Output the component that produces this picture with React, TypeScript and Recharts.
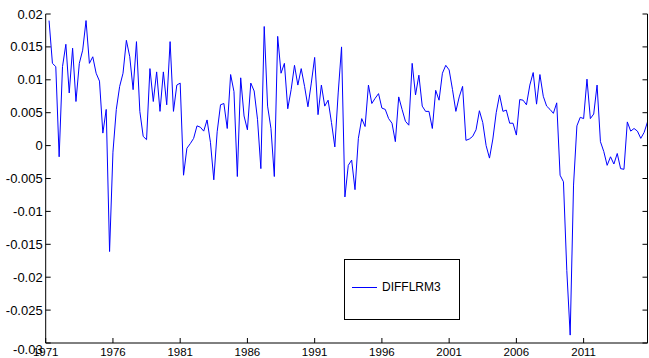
import React from 'react';
import { LineChart, Line, XAxis, YAxis } from 'recharts';

// quarterly observations, first one is 1971 Q2
const firstQuarter = 1971.25;
const seriesName = 'DIFFLRM3';
const diffLrm3 = [
  0.019, 0.0125, 0.012, -0.0017, 0.012, 0.0154, 0.008, 0.0148, 0.0067, 0.0125,
  0.0145, 0.019, 0.0125, 0.0135, 0.011, 0.0098, 0.0019, 0.0055, -0.0161, -0.001,
  0.0055, 0.009, 0.011, 0.016, 0.0135, 0.0085, 0.0158, 0.0052, 0.0014, 0.0009,
  0.0117, 0.0067, 0.0112, 0.0052, 0.0112, 0.0062, 0.0158, 0.0052, 0.0092, 0.0095,
  -0.0045, -0.0004, 0.0003, 0.0011, 0.003, 0.0028, 0.0022, 0.0039, 0.0005, -0.0052,
  0.0021, 0.0062, 0.0064, 0.0026, 0.0108, 0.0082, -0.0047, 0.0103, 0.0045, 0.0024,
  0.0095, 0.0083, 0.004, -0.0035, 0.0181, 0.006, 0.0026, -0.0047, 0.0166, 0.011,
  0.0125, 0.0056, 0.0085, 0.0122, 0.0092, 0.0117, 0.009, 0.0059, 0.0095, 0.0134,
  0.0047, 0.0092, 0.006, 0.0069, 0.0035, -0.0002, 0.008, 0.015, -0.0078, -0.003,
  -0.0022, -0.0067, 0.0011, 0.0041, 0.0029, 0.0092, 0.0064, 0.0072, 0.0079, 0.0057,
  0.0055, 0.0041, 0.0034, 0.0006, 0.0074, 0.0055, 0.0037, 0.0031, 0.0125, 0.0077,
  0.0107, 0.006, 0.0052, 0.0052, 0.0026, 0.0084, 0.0069, 0.011, 0.0122, 0.0115,
  0.0085, 0.0052, 0.0074, 0.009, 0.0008, 0.001, 0.0014, 0.0024, 0.0053, 0.0035,
  0.0, -0.0019, 0.001, 0.005, 0.0077, 0.0052, 0.0054, 0.0034, 0.0034, 0.0016,
  0.007, 0.0069, 0.0062, 0.0092, 0.0111, 0.0063, 0.0108, 0.0075, 0.006, 0.0055,
  0.0049, 0.0065, -0.0045, -0.0055, -0.019, -0.0288, -0.006, 0.003, 0.0043, 0.0041,
  0.0101, 0.0041, 0.0048, 0.0092, 0.0006, -0.0009, -0.003, -0.0017, -0.0028, -0.0012,
  -0.0035, -0.0036, 0.0036, 0.0022, 0.0026, 0.0022, 0.0011, 0.002, 0.0036,
];

const xTicks = [1971, 1976, 1981, 1986, 1991, 1996, 2001, 2006, 2011];
const xTickLabels = ['1971', '1976', '1981', '1986', '1991', '1996', '2001', '2006', '2011'];
const yTicks = [-0.03, -0.025, -0.02, -0.015, -0.01, -0.005, 0, 0.005, 0.01, 0.015, 0.02];
const yTickLabels = ['-0.03', '-0.025', '-0.02', '-0.015', '-0.01', '-0.005', '0', '0.005', '0.01', '0.015', '0.02'];

const rows = diffLrm3.map((v, i) => ({ t: firstQuarter + i / 4, v }));
const lastT = firstQuarter + (diffLrm3.length - 1) / 4;

const font = '"Liberation Sans", Arial, Helvetica, sans-serif';
const ink = '#000';

const LeftTick = (props: any) => {
  const { x, y, payload } = props;
  const idx = yTicks.indexOf(payload.value);
  // matlab pushed the lowest label down a bit
  const dy = idx === 0 ? 6 : 0;
  return (
    <g>
      <line x1={x} x2={x + 5} y1={y} y2={y} stroke={ink} />
      <text x={x - 3} y={y + dy} textAnchor="end" dominantBaseline="central" fontSize={13} fontFamily={font} fill={ink}>
        {yTickLabels[idx]}
      </text>
    </g>
  );
};

const RightTick = (props: any) => {
  const { x, y } = props;
  return <line x1={x} x2={x - 5} y1={y} y2={y} stroke={ink} />;
};

const BottomTick = (props: any) => {
  const { x, y, payload } = props;
  const idx = xTicks.indexOf(payload.value);
  return (
    <g>
      <line x1={x} x2={x} y1={y} y2={y - 5} stroke={ink} />
      <text x={x} y={y + 9} textAnchor="middle" dominantBaseline="central" fontSize={11.5} fontFamily={font} fill={ink}>
        {xTickLabels[idx]}
      </text>
    </g>
  );
};

const TopTick = (props: any) => {
  const { x, y } = props;
  return <line x1={x} x2={x} y1={y} y2={y + 5} stroke={ink} />;
};

export default function App() {
  return (
    <div style={{ position: 'absolute', left: 0, top: 0, width: 649, height: 358, background: '#fff' }}>
      <LineChart width={649} height={358} data={rows} margin={{ top: 14, right: 0, bottom: 0, left: 0 }}>
        <XAxis
          xAxisId="b"
          dataKey="t"
          type="number"
          domain={[1971, lastT]}
          ticks={xTicks}
          interval={0}
          height={15}
          tickSize={0}
          tickMargin={0}
          tickLine={false}
          axisLine={{ stroke: ink }}
          tick={<BottomTick />}
          allowDataOverflow
        />
        <XAxis
          xAxisId="t"
          orientation="top"
          dataKey="t"
          type="number"
          domain={[1971, lastT]}
          ticks={xTicks}
          interval={0}
          height={0}
          tickSize={0}
          tickMargin={0}
          tickLine={false}
          axisLine={{ stroke: ink }}
          tick={<TopTick />}
          allowDataOverflow
        />
        <YAxis
          yAxisId="l"
          type="number"
          domain={[-0.03, 0.02]}
          ticks={yTicks}
          interval={0}
          width={45.7}
          tickSize={0}
          tickMargin={0}
          tickLine={false}
          axisLine={{ stroke: ink }}
          tick={<LeftTick />}
          allowDataOverflow
        />
        <YAxis
          yAxisId="r"
          orientation="right"
          type="number"
          domain={[-0.03, 0.02]}
          ticks={yTicks}
          interval={0}
          width={1.5}
          tickSize={0}
          tickMargin={0}
          tickLine={false}
          axisLine={{ stroke: ink }}
          tick={<RightTick />}
          allowDataOverflow
        />
        <Line
          xAxisId="b"
          yAxisId="l"
          dataKey="v"
          name={seriesName}
          type="linear"
          stroke="#0000ff"
          strokeWidth={1}
          dot={false}
          activeDot={false}
          isAnimationActive={false}
        />
      </LineChart>
      <div
        style={{
          position: 'absolute',
          left: 344,
          top: 259,
          width: 114,
          height: 59,
          border: `1px solid ${ink}`,
          background: '#fff',
          fontFamily: font,
          fontSize: 12,
          color: ink,
        }}
      >
        <div style={{ position: 'absolute', left: 7, top: 27, width: 25, height: 1, background: '#0000ff' }} />
        <span style={{ position: 'absolute', left: 37, top: 20, lineHeight: '14px' }}>{seriesName}</span>
      </div>
    </div>
  );
}
